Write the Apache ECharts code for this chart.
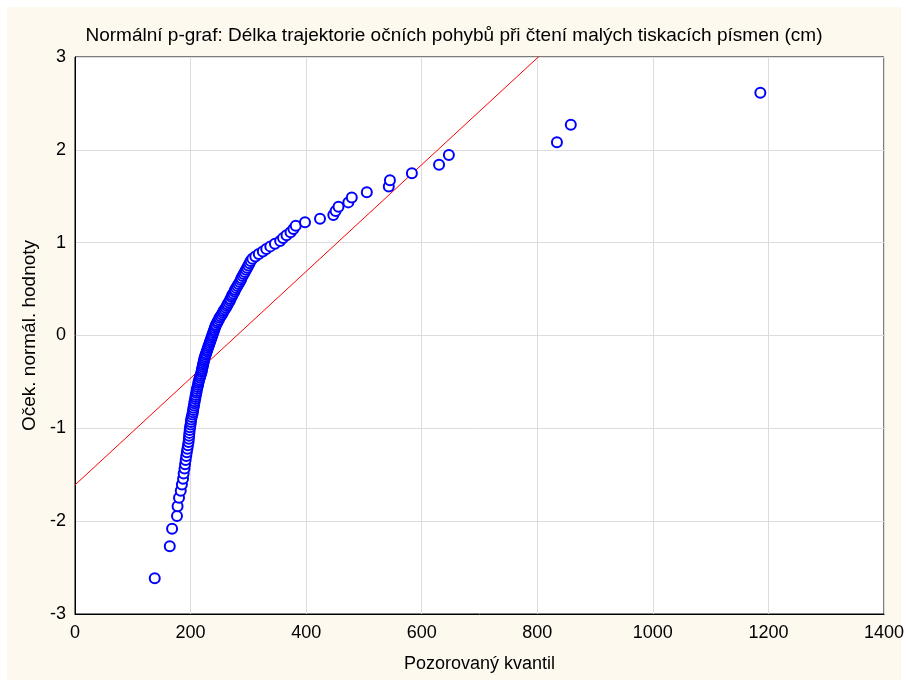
<!DOCTYPE html>
<html>
<head>
<meta charset="utf-8">
<script src="https://cdn.jsdelivr.net/npm/echarts@6/dist/echarts.min.js"></script>
<style>
html,body{margin:0;padding:0;background:#fff;}
#frame{position:absolute;left:7px;top:7px;width:894px;height:673px;background:#FDF9EF;}
#main{position:absolute;left:0;top:0;width:908px;height:682px;}
</style>
</head>
<body>
<div id="frame"></div>
<div id="main"></div>
<script>
// Observed quantiles (x, cm), sorted ascending
const observed = [
 138,164,168,176.5,177.5,180,183,185,187,188,
 189.5,190.5,191.5,192.5,193.5,194.5,195.5,196.5,197,197.5,
 198,198.5,199,200,200.5,201,202,203,204,204.5,
 205,206,206.5,207,208,208.5,209,210,210.5,211,
 212,213,213.5,214,215,216,217,218,219,219.5,
 220,221,221.5,222,223,223.5,224,225,226,227,
 228,229,230,231,232,233,234,235,236,237,
 238,239,240,241,242,243,244,246,247,249,
 250,252,254,256,257,259,261,263,264,266,
 268,269,271,272,274,276,277,279,281,283,
 285,287,288,290,292,294,296,298,300,302,
 304,307,312,318,325,331,338,346,355,360,
 366,373,378,382,398,424,447,451,456,473,
 479,505,543,545,583,630,647,834,858,1186
];
// Expected normal values (y) read for each point
const expected = [
 -2.616,-2.270,-2.081,-1.945,-1.839,-1.749,-1.672,-1.604,-1.542,-1.486,
 -1.434,-1.386,-1.341,-1.298,-1.258,-1.219,-1.182,-1.147,-1.113,-1.080,
 -1.049,-1.018,-0.988,-0.960,-0.932,-0.905,-0.878,-0.852,-0.827,-0.802,
 -0.778,-0.754,-0.730,-0.707,-0.684,-0.662,-0.640,-0.618,-0.597,-0.575,
 -0.554,-0.534,-0.513,-0.493,-0.473,-0.453,-0.433,-0.414,-0.394,-0.375,
 -0.356,-0.337,-0.318,-0.300,-0.281,-0.263,-0.244,-0.226,-0.208,-0.190,
 -0.171,-0.153,-0.135,-0.117,-0.099,-0.081,-0.063,-0.045,-0.027,-0.009,
 0.009,0.027,0.045,0.063,0.081,0.099,0.117,0.135,0.153,0.171,
 0.190,0.208,0.226,0.244,0.263,0.281,0.300,0.318,0.337,0.356,
 0.375,0.394,0.414,0.433,0.453,0.473,0.493,0.513,0.534,0.554,
 0.575,0.597,0.618,0.640,0.662,0.684,0.707,0.730,0.754,0.778,
 0.802,0.827,0.852,0.878,0.905,0.932,0.960,0.988,1.018,1.049,
 1.080,1.113,1.147,1.182,1.219,1.258,1.298,1.341,1.386,1.434,
 1.486,1.542,1.604,1.672,1.749,1.839,1.945,2.081,2.270,2.616
];
// Reference line endpoints (x, y)
const lineX = [0, 1400];
const lineY = [-1.61, 6.44];

const xTicks = {min:0, max:1400, interval:200};
const yTicks = {min:-3, max:3, interval:1};

const titleText = 'Normální p-graf: Délka trajektorie očních pohybů při čtení malých tiskacích písmen (cm)';
const xName = 'Pozorovaný kvantil';
const yName = 'Oček. normál. hodnoty';

const pts = observed.map((v,i)=>[v, expected[i]]);
const linePts = lineX.map((v,i)=>[v, lineY[i]]);

const font = 'Liberation Sans, Arial, sans-serif';
const chart = echarts.init(document.getElementById('main'), null, {renderer:'canvas'});
chart.setOption({
  backgroundColor: 'transparent',
  animation: false,
  title: {
    text: titleText, left: 'center', top: 21,
    textStyle: {fontFamily: font, fontSize: 19, fontWeight: 'normal', color: '#000'}
  },
  grid: {left: 75, right: 24, top: 57, bottom: 68, show: true, backgroundColor: '#fff', borderColor: '#000', borderWidth: 1},
  xAxis: {
    type: 'value', min: xTicks.min, max: xTicks.max, interval: xTicks.interval,
    name: xName, nameLocation: 'middle', nameGap: 41,
    nameTextStyle: {fontFamily: font, fontSize: 18, color: '#000'},
    axisLine: {show: true, onZero: false, lineStyle: {color: '#000'}},
    axisTick: {show: false},
    axisLabel: {fontFamily: font, fontSize: 18, color: '#000', margin: 10, formatter: v => String(v)},
    splitLine: {show: true, lineStyle: {color: '#DCDCDC', width: 1}}
  },
  yAxis: {
    type: 'value', min: yTicks.min, max: yTicks.max, interval: yTicks.interval,
    name: yName, nameLocation: 'middle', nameGap: 36,
    nameTextStyle: {fontFamily: font, fontSize: 19, color: '#000'},
    axisLine: {show: true, onZero: false, lineStyle: {color: '#000'}},
    axisTick: {show: false},
    axisLabel: {fontFamily: font, fontSize: 18, color: '#000', margin: 9, formatter: v => String(v)},
    splitLine: {show: true, lineStyle: {color: '#DCDCDC', width: 1}}
  },
  series: [
    {
      type: 'line', data: linePts, showSymbol: false, symbol: 'none', clip: true,
      lineStyle: {color: '#FF0000', width: 1}, z: 2, silent: true
    },
    {
      type: 'scatter', data: pts, symbol: 'emptyCircle', symbolSize: 10,
      itemStyle: {color: '#0000FF', borderColor: '#0000FF', borderWidth: 2.5, opacity: 1},
      z: 3, silent: true
    }
  ]
});
</script>
</body>
</html>
